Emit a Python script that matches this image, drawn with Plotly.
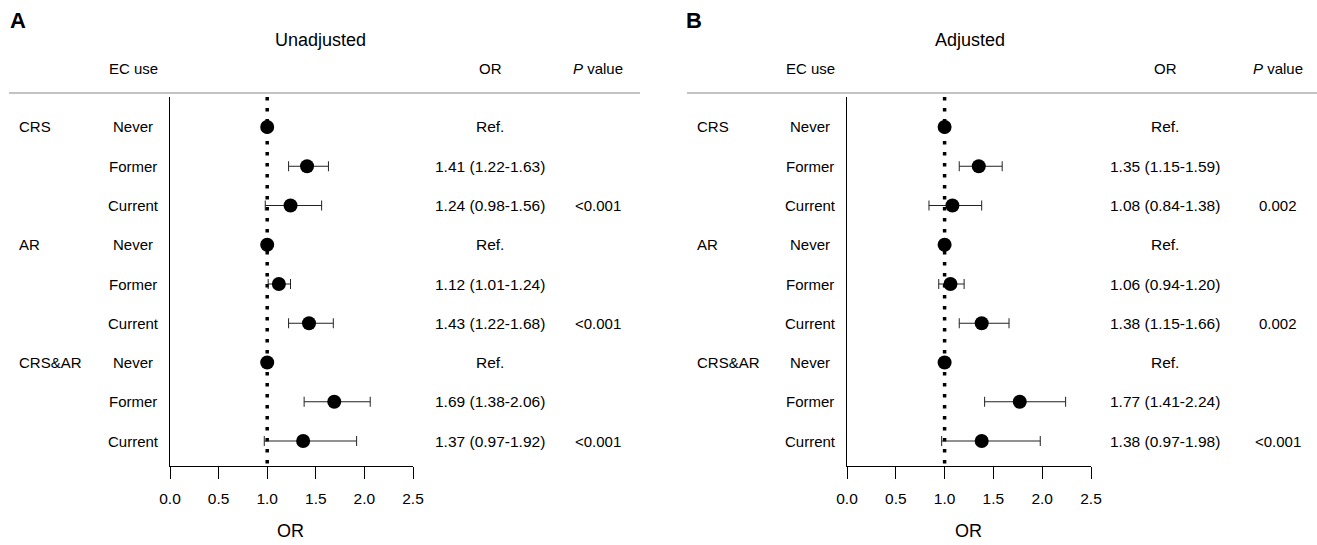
import plotly.graph_objects as go

# ---------------- data ----------------
groups = ["CRS", "AR", "CRS&AR"]
ec_use = ["Never", "Former", "Current"]

unadj_or = [1.00, 1.41, 1.24, 1.00, 1.12, 1.43, 1.00, 1.69, 1.37]
unadj_lo = [None, 1.22, 0.98, None, 1.01, 1.22, None, 1.38, 0.97]
unadj_hi = [None, 1.63, 1.56, None, 1.24, 1.68, None, 2.06, 1.92]
unadj_p = ["<0.001", "<0.001", "<0.001"]

adj_or = [1.00, 1.35, 1.08, 1.00, 1.06, 1.38, 1.00, 1.77, 1.38]
adj_lo = [None, 1.15, 0.84, None, 0.94, 1.15, None, 1.41, 0.97]
adj_hi = [None, 1.59, 1.38, None, 1.20, 1.66, None, 2.24, 1.98]
adj_p = ["0.002", "0.002", "<0.001"]

x_ticks = [0.0, 0.5, 1.0, 1.5, 2.0, 2.5]
x_tick_labels = ["0.0", "0.5", "1.0", "1.5", "2.0", "2.5"]
ref_value = 1.0

# ---------------- layout helpers ----------------
W, H = 1317, 545
FONT = "Liberation Sans, Arial, sans-serif"
FS = 15


def fx(px):
    return px / W


def fy(py):
    return 1 - py / H


ROW0, ROWSTEP = 127, 39.25
PLOT_TOP, PLOT_BOT = 97, 466
y_top = (PLOT_TOP - ROW0) / ROWSTEP
y_bot = (PLOT_BOT - ROW0) / ROWSTEP

panels = [
    dict(letter="A", title="Unadjusted", orv=unadj_or, lo=unadj_lo, hi=unadj_hi, p=unadj_p,
         x0=170, x1=413, letter_x=18, group_x=17, ec_x=133, or_x=490, p_x=598,
         title_x=320, line_x0=9, line_x1=640, xtitle_x=290, ax="", ),
    dict(letter="B", title="Adjusted", orv=adj_or, lo=adj_lo, hi=adj_hi, p=adj_p,
         x0=847, x1=1091, letter_x=694, group_x=695, ec_x=810, or_x=1165, p_x=1278,
         title_x=970, line_x0=687, line_x1=1317, xtitle_x=968, ax="2"),
]

fig = go.Figure()
annotations = []
shapes = []
layout_axes = {}

n_rows = len(groups) * len(ec_use)
rows = list(range(n_rows))

for pnl in panels:
    ax = pnl["ax"]
    xname, yname = "x" + ax, "y" + ax
    orv, lo, hi = pnl["orv"], pnl["lo"], pnl["hi"]
    plus = [(h - o) if h is not None else 0 for o, h in zip(orv, hi)]
    minus = [(o - l) if l is not None else 0 for o, l in zip(orv, lo)]
    vis = [h is not None for h in hi]

    # reference line
    fig.add_trace(go.Scatter(
        x=[ref_value, ref_value], y=[y_top, y_bot], mode="lines",
        line=dict(color="black", width=3.5, dash="3.5px,7.5px"),
        xaxis=xname, yaxis=yname, showlegend=False, hoverinfo="skip"))

    # error bars (only for non-reference rows)
    ex = [o for o, v in zip(orv, vis) if v]
    ey = [r for r, v in zip(rows, vis) if v]
    ep = [p for p, v in zip(plus, vis) if v]
    em = [m for m, v in zip(minus, vis) if v]
    fig.add_trace(go.Scatter(
        x=ex, y=ey, mode="markers",
        marker=dict(size=1, color="rgba(0,0,0,0)"),
        error_x=dict(type="data", symmetric=False, array=ep, arrayminus=em,
                     color="#222", thickness=1, width=5),
        xaxis=xname, yaxis=yname, showlegend=False, hoverinfo="skip"))

    # points
    fig.add_trace(go.Scatter(
        x=orv, y=rows, mode="markers",
        marker=dict(size=14, color="black", line=dict(width=0)),
        xaxis=xname, yaxis=yname, showlegend=False, cliponaxis=False))

    layout_axes["xaxis" + ax] = dict(
        domain=[fx(pnl["x0"]), fx(pnl["x1"])], range=[0, 2.5],
        anchor=yname, showline=True, linecolor="black", linewidth=1,
        ticks="outside", ticklen=12, tickwidth=1, tickcolor="black",
        tickvals=x_ticks, ticktext=x_tick_labels, ticklabelstandoff=6,
        tickfont=dict(family=FONT, size=15.5, color="black"),
        showgrid=False, zeroline=False, fixedrange=True, automargin=False)
    layout_axes["yaxis" + ax] = dict(
        domain=[fy(PLOT_BOT), fy(PLOT_TOP)], range=[y_bot, y_top],
        anchor=xname, showline=True, linecolor="black", linewidth=1,
        showticklabels=False, ticks="", showgrid=False, zeroline=False,
        fixedrange=True, automargin=False)

    # panel letter & title
    annotations.append(dict(text="<b>%s</b>" % pnl["letter"], x=fx(pnl["letter_x"]), y=fy(20),
                            xref="paper", yref="paper", xanchor="center", yanchor="middle",
                            showarrow=False, font=dict(family=FONT, size=22, color="black")))
    annotations.append(dict(text=pnl["title"], x=fx(pnl["title_x"]), y=fy(40),
                            xref="paper", yref="paper", xanchor="center", yanchor="middle",
                            showarrow=False, font=dict(family=FONT, size=18, color="black")))
    # column headers
    for txt, xp in [("EC use", pnl["ec_x"]), ("OR", pnl["or_x"]), ("<i>P</i> value", pnl["p_x"])]:
        annotations.append(dict(text=txt, x=fx(xp), y=fy(69), xref="paper", yref="paper",
                                xanchor="center", yanchor="middle", showarrow=False,
                                font=dict(family=FONT, size=FS, color="black")))
    # x-axis title
    annotations.append(dict(text="OR", x=fx(pnl["xtitle_x"]), y=fy(531), xref="paper", yref="paper",
                            xanchor="center", yanchor="middle", showarrow=False,
                            font=dict(family=FONT, size=18, color="black")))
    # header rule
    shapes.append(dict(type="line", xref="paper", yref="paper",
                       x0=fx(pnl["line_x0"]), x1=fx(pnl["line_x1"]), y0=fy(93), y1=fy(93),
                       line=dict(color="#888", width=1)))

    # row texts
    for gi, g in enumerate(groups):
        r0 = gi * len(ec_use)
        annotations.append(dict(text=g, x=fx(pnl["group_x"]), y=r0, xref="paper", yref=yname,
                                xanchor="left", yanchor="middle", showarrow=False,
                                font=dict(family=FONT, size=FS, color="black")))
        annotations.append(dict(text=pnl["p"][gi], x=fx(pnl["p_x"]), y=r0 + len(ec_use) - 1,
                                xref="paper", yref=yname, xanchor="center", yanchor="middle",
                                showarrow=False, font=dict(family=FONT, size=FS, color="black")))
        for ei, e in enumerate(ec_use):
            r = r0 + ei
            annotations.append(dict(text=e, x=fx(pnl["ec_x"]), y=r, xref="paper", yref=yname,
                                    xanchor="center", yanchor="middle", showarrow=False,
                                    font=dict(family=FONT, size=FS, color="black")))
            if lo[r] is None:
                ortxt = "Ref."
            else:
                ortxt = "%.2f (%.2f-%.2f)" % (orv[r], lo[r], hi[r])
            annotations.append(dict(text=ortxt, x=fx(pnl["or_x"]), y=r, xref="paper", yref=yname,
                                    xanchor="center", yanchor="middle", showarrow=False,
                                    font=dict(family=FONT, size=15.5, color="black")))

fig.update_layout(
    template="none",
    width=W, height=H, autosize=False, margin=dict(l=0, r=0, t=0, b=0, pad=0),
    paper_bgcolor="white", plot_bgcolor="white",
    annotations=annotations, shapes=shapes, showlegend=False,
    font=dict(family=FONT, size=FS, color="black"),
    **layout_axes)

fig.write_html(
    "out.html",
    config={"displayModeBar": False},
    post_script=(
        "document.documentElement.style.margin='0';"
        "document.body.style.margin='0';document.body.style.padding='0';"
        "document.documentElement.style.overflow='hidden';"
        "document.body.style.overflow='hidden';"
    ),
)
